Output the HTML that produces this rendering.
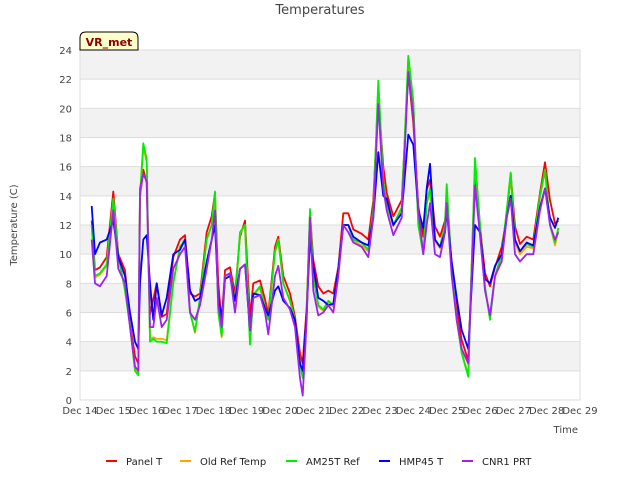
<!DOCTYPE html>
<html><head><meta charset="utf-8"><style>
body{margin:0;background:#fff;}
svg{display:block;font-family:"DejaVu Sans","Liberation Sans",sans-serif;}
</style></head><body>
<svg id="chart" width="640" height="480" viewBox="0 0 640 480">
<text x="320" y="14" text-anchor="middle" font-size="13" fill="#444">Temperatures</text>
<g id="bands"></g>
<g id="grid"></g>
<rect x="80" y="50" width="500" height="350" fill="none" stroke="#ddd"/>
<g id="yticks"></g>
<g id="xticks"></g>
<g id="series"></g>
<text transform="translate(17,225) rotate(-90)" text-anchor="middle" font-size="10" fill="#444">Temperature (C)</text>
<text x="578" y="433" text-anchor="end" font-size="10" fill="#444">Time</text>
<g>
<path d="M80,50 L80,38 Q80,32 86,32 L132,32 Q138,32 138,38 L138,50 Z" fill="#ffffcc" stroke="#000" stroke-width="1"/>
<text x="109" y="46" text-anchor="middle" font-size="11" font-weight="bold" fill="#8b0000">VR_met</text>
</g>
<g id="legend"></g>
</svg>
<script>
const yTicks=[0,2,4,6,8,10,12,14,16,18,20,22,24];
const xTickLabels=["Dec 14","Dec 15","Dec 16","Dec 17","Dec 18","Dec 19","Dec 20","Dec 21","Dec 22","Dec 23","Dec 24","Dec 25","Dec 26","Dec 27","Dec 28","Dec 29"];
const seriesNames=["Panel T","Old Ref Temp","AM25T Ref","HMP45 T","CNR1 PRT"];
const times=[0.35,0.45,0.6,0.8,1.0,1.15,1.35,1.5,1.65,1.75,1.8,1.9,2.0,2.1,2.2,2.3,2.45,2.6,2.8,3.0,3.15,3.3,3.45,3.6,3.8,3.95,4.05,4.15,4.25,4.35,4.5,4.65,4.8,4.95,5.1,5.2,5.4,5.55,5.65,5.85,5.95,6.1,6.3,6.45,6.6,6.68,6.8,6.9,7.0,7.15,7.3,7.45,7.6,7.75,7.9,8.05,8.2,8.45,8.65,8.8,8.95,9.1,9.2,9.4,9.65,9.85,10.0,10.15,10.3,10.4,10.5,10.65,10.8,10.95,11.0,11.15,11.3,11.45,11.65,11.85,12.0,12.15,12.3,12.45,12.65,12.8,12.92,13.05,13.2,13.4,13.6,13.8,13.95,14.1,14.25,14.35];
const panelT=[12.3,8.9,9.1,9.8,14.3,10,8.9,5.3,3,2.5,13.9,15.8,14.9,5.9,6.9,8,5.7,5.9,9.8,11,11.3,7.3,7.1,7.3,11.5,12.6,14.2,8,5.3,8.9,9.1,7.3,11.2,12.3,5.7,8,8.2,6.9,5.9,10.5,11.2,8.5,7.3,5.7,3.2,2.5,6.4,12.8,9.6,7.8,7.3,7.5,7.3,9.1,12.8,12.8,11.7,11.4,11,13.7,20.8,16,14.2,12.6,13.7,22.4,19,13.3,11.2,14.4,15.1,11.9,11.2,12.3,13.9,9.1,6.4,4.1,2.7,15.5,11.9,8.7,7.8,9.1,10.5,12.6,15.5,11.9,10.7,11.2,11,14.2,16.3,13.7,12.1,12.3];
const oldRef=[12,8.4,8.6,9.2,13.7,9.8,7.6,5.2,2.1,1.8,13.8,17.3,16.3,4.2,4.3,4.2,4.2,4.1,8.1,10.5,11,6.1,4.6,7,11,12,14.1,6.1,4.3,8.5,8.6,6.8,11.4,12,3.9,7.2,7.7,6.2,5.5,10.1,11,8,6.8,5.5,2.6,1.6,6,12.9,8.5,6.4,6.1,6.7,6.4,9,12,12,10.9,10.6,10.2,13,21.5,15,13.4,11.9,13.1,23.3,20.4,12,10,13.4,14.4,10.9,10.4,11.9,14.6,9,5.5,3.3,1.7,16.4,12,7.7,5.6,8.4,9.9,12.9,15.5,10.8,10,10.5,10.4,13.9,15.7,12,10.6,11.6];
const am25tRef=[12,8.5,8.7,9.3,13.8,9.9,7.5,5.1,2,1.7,14,17.6,16.5,4,4.2,4,4,3.9,8,10.5,11,6,4.7,7,11,12,14.3,6,4.4,8.5,8.7,6.8,11.5,12,3.8,7.2,7.8,6.3,5.5,10.2,11,8,6.8,5.5,2.5,1.5,6,13.1,8.5,6.5,6.2,6.8,6.5,9,12,12,11,10.8,10.3,13,21.9,15,13.5,12,13.2,23.6,20.5,12,10,13.5,14.5,11,10.5,12,14.8,9,5.5,3.2,1.6,16.6,12,7.8,5.5,8.5,10,13,15.6,11,10.2,10.7,10.5,14,15.8,12,10.8,11.8];
const hmp45T=[13.3,10,10.8,11,12.3,9.8,8.5,6,4,3.5,8,11,11.3,8,5.5,8,5.8,7,10,10.3,11,7.5,6.8,7,9.5,11,12,7,5.6,8.3,8.5,6.8,9,9.3,4.8,7.3,7.2,6.3,5.8,7.5,7.8,6.8,6.3,5.5,2.5,2,6,11,9.2,7,6.8,6.5,6.6,9,12,12,11.2,10.8,10.6,12.5,17,14,13.8,12,12.8,18.2,17.5,13,11.8,14.5,16.2,11,10.5,11.5,13,9.5,7,4.8,3.5,12,11.5,8.3,8,9.2,10,12.5,14,11,10.2,10.8,10.6,13.2,14.5,12.5,11.8,12.5];
const cnr1PRT=[11,8,7.8,8.5,13,9,8,5,2.3,2,14.5,15.5,15,5,5,7,5,5.5,9,10,10.5,6,5.5,6.5,9,11,13,6.5,5,8.5,8.7,6,9,9.3,4.8,7,7.2,6,4.5,8.5,9.2,7,6.2,5,1.5,0.3,5.5,12.5,7.5,5.8,6,6.5,6,8.5,12,11.5,10.8,10.5,9.8,12.5,20.3,14.5,13,11.3,12.5,22.5,19.5,13,10,12,13.5,10,9.8,11.5,13.5,8.5,5.5,3.5,2.5,14.7,11.3,7.5,5.8,8.5,9.5,12.5,13.8,10,9.5,10,10,13,14.5,12,11,11.5];

const NS="http://www.w3.org/2000/svg";
const X0=80,X1=580,Y0=400,Y1=50,XMIN=0,XMAX=15,YMIN=0,YMAX=24;
const xs=t=>X0+(t-XMIN)/(XMAX-XMIN)*(X1-X0);
const ys=v=>Y0-(v-YMIN)/(YMAX-YMIN)*(Y0-Y1);
function mk(tag,attrs,parent){const e=document.createElementNS(NS,tag);for(const k in attrs)e.setAttribute(k,attrs[k]);parent.appendChild(e);return e;}
const bands=document.getElementById('bands'),grid=document.getElementById('grid'),yt=document.getElementById('yticks'),xt=document.getElementById('xticks');
for(let i=0;i<yTicks.length-1;i++){
  if(i%2===1){const r=mk('rect',{x:X0,y:ys(yTicks[i+1]),width:X1-X0,height:ys(yTicks[i])-ys(yTicks[i+1]),fill:'#f2f2f2'},bands);
  
  }
}
yTicks.forEach(v=>{
  const l=mk('line',{x1:X0,x2:X1,y1:ys(v),y2:ys(v),stroke:'#ddd','stroke-width':1},grid);
  
  
  const t=mk('text',{x:X0-8,y:ys(v)+4,'text-anchor':'end','font-size':10,fill:'#444'},yt);
  
  
  t.textContent=v;
});
xTickLabels.forEach((s,i)=>{
  const t=mk('text',{x:xs(i),y:414,'text-anchor':'middle','font-size':10,fill:'#444'},xt);
  
  
  t.textContent=s;
});
const colors=["#ff0000","#ffa500","#00ee00","#0000ff","#a020f0"];
const data=[panelT,oldRef,am25tRef,hmp45T,cnr1PRT];
const sg=document.getElementById('series');
data.forEach((vals,si)=>{
  const d=vals.map((v,i)=>(i?'L':'M')+xs(times[i]).toFixed(1)+','+ys(v).toFixed(1)).join(' ');
  const p=mk('path',{d:d,fill:'none',stroke:colors[si],'stroke-width':1.8,'stroke-linejoin':'round'},sg);
  
  
});
const lg=document.getElementById('legend');
const lx=[106,180,286,379,462];
seriesNames.forEach((n,i)=>{
  const g=mk('g',{},lg);
  
  
  mk('line',{x1:lx[i],x2:lx[i]+11,y1:461,y2:461,stroke:colors[i],'stroke-width':2},g);
  const t=mk('text',{x:lx[i]+20,y:465,'font-size':10,fill:'#222'},g);
  t.textContent=n;
});
</script>
</body></html>
